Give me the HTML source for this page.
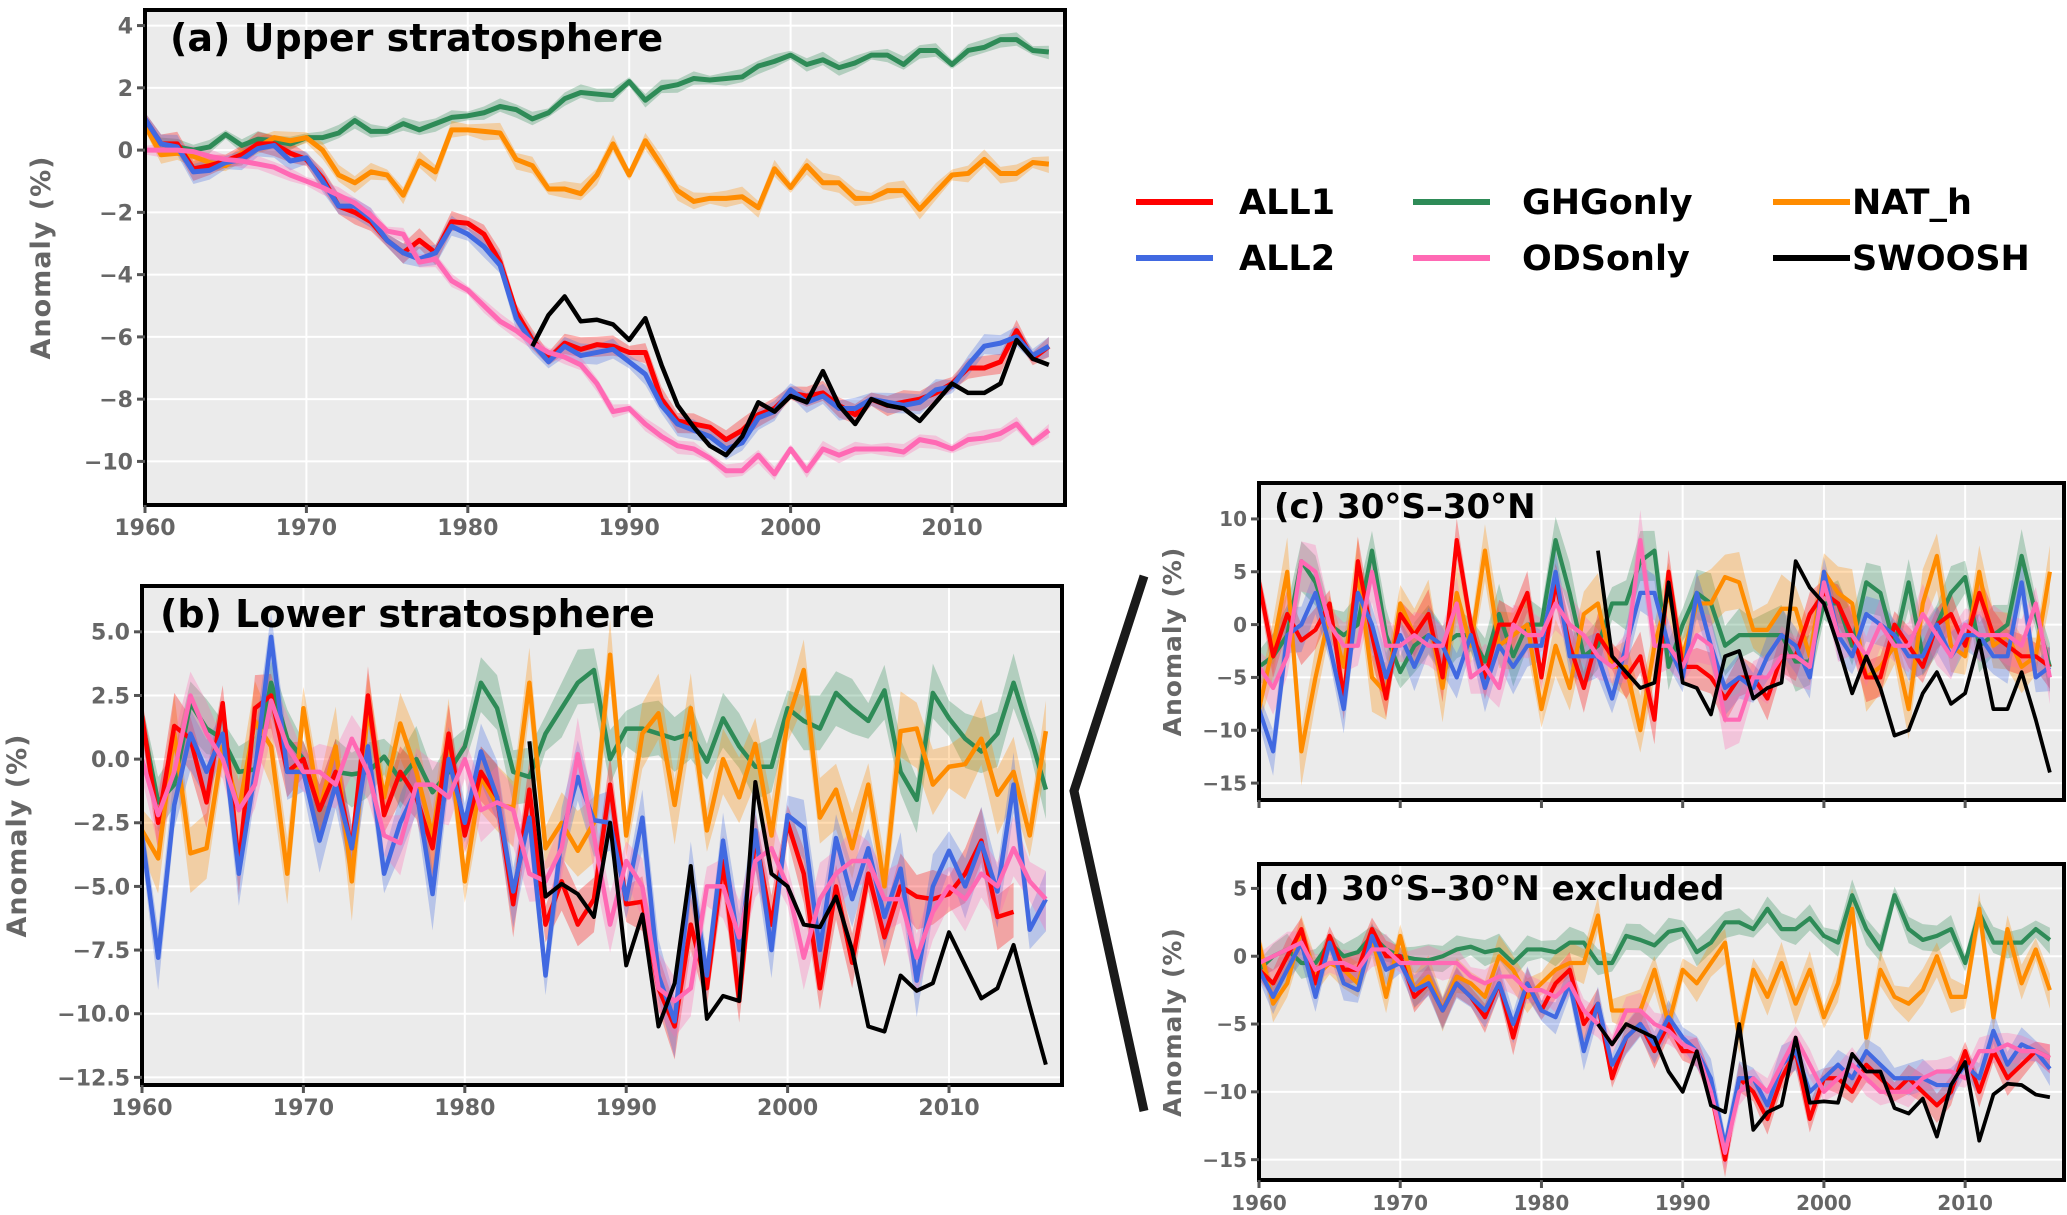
<!DOCTYPE html>
<html><head><meta charset="utf-8">
<style>
html,body{margin:0;padding:0;background:#fff;}
svg{display:block;font-family:"DejaVu Sans","Liberation Sans",sans-serif;}
</style></head>
<body>
<svg id="fig" width="2067" height="1215" viewBox="0 0 2067 1215" xmlns="http://www.w3.org/2000/svg"></svg>
<script>
// ---- data (years 1960..2016) ----
const years = Array.from({length:57},(_,i)=>1960+i);
const swooshYears = Array.from({length:33},(_,i)=>1984+i);

// panel a
const aGHG=[0.8,0.2,0.1,0.0,0.1,0.5,0.15,0.35,0.3,0.2,0.4,0.4,0.55,0.95,0.6,0.6,0.85,0.65,0.85,1.05,1.1,1.2,1.4,1.3,1.0,1.2,1.65,1.85,1.8,1.75,2.2,1.6,2.0,2.1,2.3,2.25,2.3,2.35,2.7,2.85,3.05,2.75,2.9,2.65,2.8,3.05,3.05,2.75,3.2,3.2,2.75,3.2,3.3,3.55,3.55,3.2,3.15];
const aNAT=[0.8,-0.15,-0.1,-0.2,-0.4,-0.5,-0.1,0.1,0.4,0.3,0.4,0.0,-0.8,-1.05,-0.7,-0.8,-1.45,-0.35,-0.7,0.65,0.65,0.6,0.55,-0.3,-0.5,-1.25,-1.25,-1.4,-0.8,0.2,-0.8,0.3,-0.5,-1.3,-1.65,-1.55,-1.55,-1.5,-1.85,-0.6,-1.2,-0.5,-1.05,-1.05,-1.55,-1.55,-1.3,-1.3,-1.9,-1.35,-0.8,-0.75,-0.3,-0.75,-0.75,-0.4,-0.45];
const aALL1=[1.0,0.2,0.2,-0.6,-0.5,-0.35,-0.15,0.2,0.2,-0.1,-0.3,-0.9,-1.8,-2.0,-2.3,-2.9,-3.3,-2.9,-3.3,-2.3,-2.35,-2.7,-3.6,-5.2,-6.1,-6.7,-6.2,-6.4,-6.25,-6.3,-6.5,-6.5,-8.0,-8.7,-8.8,-8.9,-9.3,-9.0,-8.5,-8.3,-7.8,-7.9,-7.8,-8.2,-8.5,-8.0,-8.2,-8.1,-8.0,-7.8,-7.5,-7.0,-7.0,-6.8,-5.8,-6.7,-6.3];
const aALL2=[1.0,0.2,0.1,-0.7,-0.65,-0.4,-0.3,0.05,0.15,-0.35,-0.25,-1.0,-1.8,-1.8,-2.2,-2.9,-3.3,-3.5,-3.3,-2.45,-2.7,-3.1,-3.7,-5.4,-6.2,-6.8,-6.3,-6.6,-6.5,-6.4,-6.8,-7.2,-8.2,-8.8,-9.0,-9.2,-9.6,-9.4,-8.6,-8.4,-7.7,-8.1,-7.9,-8.3,-8.3,-8.0,-8.1,-8.2,-8.1,-7.7,-7.6,-6.9,-6.3,-6.2,-6.0,-6.6,-6.3];
const aODS=[0.0,0.0,0.0,-0.05,-0.2,-0.3,-0.35,-0.45,-0.55,-0.8,-1.0,-1.2,-1.45,-1.7,-2.1,-2.6,-2.7,-3.6,-3.5,-4.2,-4.5,-5.0,-5.5,-5.8,-6.2,-6.5,-6.65,-6.9,-7.5,-8.4,-8.3,-8.8,-9.2,-9.5,-9.6,-9.9,-10.3,-10.3,-9.8,-10.4,-9.6,-10.3,-9.6,-9.8,-9.6,-9.6,-9.6,-9.7,-9.3,-9.4,-9.6,-9.3,-9.25,-9.1,-8.8,-9.4,-9.0];
const aSWOOSH=[-6.3,-5.3,-4.7,-5.5,-5.45,-5.6,-6.1,-5.4,-6.9,-8.2,-8.9,-9.5,-9.8,-9.2,-8.1,-8.4,-7.9,-8.1,-7.1,-8.2,-8.8,-8.0,-8.2,-8.3,-8.7,-8.1,-7.5,-7.8,-7.8,-7.5,-6.1,-6.7,-6.9];

// panel b
const bGHG=[1.5,-1.7,-1.0,2.2,1.2,0.8,-0.5,-0.4,3.0,0.8,0.0,-2.0,-0.5,-0.6,-0.5,0.1,-0.8,0.0,-1.3,-0.5,0.5,3.0,2.0,-0.5,-0.7,1.0,2.0,3.0,3.5,0.0,1.2,1.2,1.0,0.8,1.0,-0.1,1.6,0.5,-0.3,-0.3,2.0,1.5,1.2,2.6,2.0,1.5,2.7,-0.5,-1.6,2.6,1.6,0.8,0.3,1.0,3.0,1.0,-1.2];
const bNAT=[-2.8,-3.9,1.0,-3.7,-3.5,0.5,-2.0,1.5,0.5,-4.5,2.0,-2.0,0.5,-4.8,2.0,-1.5,1.4,-0.5,-3.0,1.0,-4.8,-0.7,-1.8,-1.9,3.0,-3.5,-2.5,-3.6,-2.5,4.1,-3.0,1.0,1.8,-1.8,2.0,-2.8,0.0,-1.5,0.6,-3.0,1.5,3.5,-2.3,-1.2,-3.5,-1.0,-5.0,1.1,1.2,-1.0,-0.3,-0.2,0.8,-1.4,-0.5,-3.0,1.1];
const bALL1=[1.7,-2.5,1.3,0.8,-1.7,2.2,-4.2,2.0,2.5,-0.5,0.0,-2.0,-0.5,-3.5,2.5,-2.2,-0.5,-1.5,-3.5,1.0,-3.0,-0.5,-1.5,-5.7,-1.2,-6.5,-4.8,-6.5,-5.5,-1.0,-5.7,-5.6,-9.0,-10.5,-6.5,-9.0,-4.0,-9.5,-3.0,-6.5,-2.5,-4.5,-9.0,-5.0,-8.0,-4.5,-7.0,-5.0,-5.4,-5.5,-5.3,-4.5,-3.2,-6.2,-6.0];
const bALL2=[-3.0,-7.8,-1.8,1.0,-0.5,1.0,-4.5,-0.5,4.8,-0.5,-0.5,-3.2,-1.0,-3.5,0.5,-4.5,-2.5,-1.2,-5.3,0.0,-2.5,0.3,-1.5,-5.2,-2.3,-8.5,-3.0,-0.7,-2.4,-2.5,-5.5,-2.3,-8.5,-10.3,-4.5,-8.5,-3.2,-7.5,-2.8,-7.5,-2.2,-2.7,-7.5,-3.1,-5.5,-3.5,-6.2,-4.3,-8.7,-5.0,-3.6,-5.0,-3.3,-5.2,-1.0,-6.7,-5.5];
const bODS=[0.0,-2.2,-0.5,2.5,1.0,0.0,-2.0,-1.0,2.3,0.5,-0.5,-0.5,-1.0,0.8,-0.5,-3.0,-3.3,-1.0,-1.0,-1.5,0.0,-2.0,-1.7,-2.0,-4.5,-4.8,-3.5,0.2,-3.0,-6.5,-4.0,-5.0,-9.0,-9.5,-9.0,-5.0,-5.0,-7.0,-4.0,-3.5,-5.0,-7.8,-5.5,-4.5,-4.0,-4.0,-5.5,-5.5,-7.8,-6.0,-5.0,-5.5,-4.5,-5.0,-3.5,-4.8,-5.5];
const bSWOOSH=[0.7,-5.4,-4.9,-5.3,-6.2,-2.5,-8.1,-6.1,-10.5,-8.8,-4.2,-10.2,-9.3,-9.5,-0.9,-4.5,-5.0,-6.5,-6.6,-5.4,-7.5,-10.5,-10.7,-8.5,-9.1,-8.8,-6.8,-8.1,-9.4,-9.0,-7.3,-9.7,-12.0];

// panel c
const cGHG=[-4,-3,-1,6,4,0,-1,0,7,-1,-4.5,-2,-1,-2,-1,-1,-3.5,1,-3,0,0,8,3,-3,-2,2,2,6,7,-4,0,3,2,-2,-1,-1,-1,-1,-3.5,-3.5,2,2,-2,4,3,-2,4,-3,0,3,4.5,-2,-1,0,6.5,1,-4];
const cNAT=[-8,-2,5,-12,-5,1,-4,5,-5,-6.5,2,-1,1,-6,3,-2,7,-2,-1,0,-8,-2,-6,1,2,-4,-4,-10,-2,3,-3,2,2,4.5,4,-0.5,-0.5,1.5,1.5,-3,5,3,2,-5,-4,-2,-8,2,6.5,-2,-3,5,-2,-1,-4,-3,5];
const cALL1=[4,-3,1,-1.5,-0.5,2,-7,6,-1,-7,1,-1,1,-5,8,0,-5,0,0,3,-5,4,-2,-6,-1,-3,-5,-3,-9,5,-4,-4,-5,-7,-5,-5,-7,-3,-3,1,3,2,-1,-5,-5,0,-2,-4,0,1,-2,3,-1,-2,-3,-3,-4];
const cALL2=[-8,-12,-1,0,3,-2,-8,3,0,-5,-1,-4,-1,-2,-5,-1,-6,-2,-4,-2,-2,5,-3,-3,-3,-7,-2,3,3,-2,-5,3,-2,-6,-5,-6,-3,-1,-2,-5,5,-1,-3,1,0,-1,-3,-3,0,-3,-1,-1,-3,-3,4,-5,-4];
const cODS=[-4,-6,-3,6,5,0,-2,-2,5,-2,-2,-1,-2,-2,2,-5,-4,-6,0,-1,-1,2,0,-1,-3,-4,-3,8,-2,-2,-4,-1,-2,-9,-9,-5,-5,-3,-3,-4,4,-1,-1,-3,0,-2,-2,1,-1,-3,0,-1,-1,-1,-2,2,-5];
const cSWOOSH=[7,-3,-4.5,-6,-5.5,4,-5.5,-6,-8.5,-3,-2.5,-7,-6,-5.5,6,3.5,2,-2,-6.5,-3,-6,-10.5,-10,-6.5,-4.5,-7.5,-6.5,-1.5,-8,-8,-4.5,-9,-14];

// panel d
const dGHG=[-1,0,0.5,-0.5,-0.5,1,0,0.3,1.5,0.5,0,-0.2,-0.3,0,0.5,0.7,0.3,0.5,-0.5,0.5,0.5,0.3,1,1,-0.5,-0.5,1.5,1.2,0.8,1.8,2,0.3,1,2.5,2.5,2,3.5,2,2,2.8,1.5,1,4.5,2,0.5,4.5,2,1.2,1.5,2,-0.5,3.2,1,1,1,2,1.2];
const dNAT=[1,-3.5,-2,2,-1.5,-0.5,-1,-2,1.5,-3,1.5,-2.5,-1.5,-4,-1.5,-2,-3,0,-1,-3,-2,-1,-0.5,-0.5,3,-4,-4,-4,-1,-5,-1,-2,-0.5,1,-6,-1,-3,-0.5,-3.5,-1,-4.5,-2,3.5,-6,-1,-3,-3.5,-2.5,0,-3,-3,3.5,-4.5,2,-2,0.5,-2.5];
const dALL1=[-1,-2,0,2,-2,1.5,-1,-1,2,0,0,-3,-2,-4,-2,-3,-4.5,-2,-6,-2,-4,-2,-1,-5,-3.5,-9,-6,-5,-7,-5,-7,-7,-10,-15,-9,-10,-12,-9,-7,-12,-9,-9,-10,-8,-9,-10,-9,-10,-11,-10,-7,-10,-7,-9,-8,-7,-7.5];
const dALL2=[-1,-3,-1,1,-3,1,-2,-2.5,1.5,-1,-0.5,-2.5,-2,-4,-2,-3,-4,-2,-5,-2,-4,-4.5,-2,-7,-3.5,-8,-6,-5,-6.5,-4.5,-6,-7,-9,-14,-9,-9,-11,-8,-7,-10,-9,-8,-9,-7,-8,-9,-9,-9,-9.5,-9.5,-8,-9,-5.5,-8,-6.5,-7,-8.3];
const dODS=[-0.5,0,0.5,1,-1,-0.5,-0.5,-1,0.5,0.5,-0.5,-0.5,-0.5,-0.5,-0.5,-1.5,-2,-1.5,-1.5,-2.5,-2.5,-3,-2,-4,-5,-6.5,-4,-4,-5,-5.5,-6.5,-7,-10,-14.5,-10,-9,-10,-8,-6,-8,-10,-9,-8,-9,-10,-10,-10,-9,-8.5,-8.5,-9,-7,-7,-6.5,-7,-7,-7.5];
const dSWOOSH=[-5,-6.5,-5,-5.5,-6,-8.5,-10,-7,-11,-11.5,-5,-12.8,-11.5,-11,-6,-10.8,-10.7,-10.8,-7.2,-8.5,-8.5,-11.2,-11.6,-10.5,-13.3,-9.5,-7.8,-13.6,-10.2,-9.4,-9.5,-10.2,-10.4];

const xTickLabels=[1960,1970,1980,1990,2000,2010];
const aYTicks=[4,2,0,-2,-4,-6,-8,-10];
const bYTicks=[5.0,2.5,0.0,-2.5,-5.0,-7.5,-10.0,-12.5];
const cYTicks=[10,5,0,-5,-10,-15];
const dYTicks=[5,0,-5,-10,-15];
const legendLabels=["ALL1","ALL2","GHGonly","ODSonly","NAT_h","SWOOSH"];

const NS="http://www.w3.org/2000/svg";
const svg=document.getElementById('fig');
function mk(tag,attrs,parent){const e=document.createElementNS(NS,tag);for(const k in attrs)e.setAttribute(k,attrs[k]);(parent||svg).appendChild(e);return e;}
const COL={ALL1:"#ff0000",ALL2:"#4169e1",GHG:"#2e8b57",ODS:"#ff69b4",NAT:"#ff8c00",SW:"#000000"};

const panels=[
 {id:"a",title:"(a) Upper stratosphere",box:[145,10,1065,505],ylim:[-11.4,4.5],yt:aYTicks,fmt:v=>v.toFixed(0),
  ser:{GHG:aGHG,NAT:aNAT,ALL1:aALL1,ALL2:aALL2,ODS:aODS},sw:aSWOOSH,band:{GHG:0.2,NAT:0.25,ALL1:0.3,ALL2:0.3,ODS:0.2},lw:5,
  tx:170,ty:51,tf:38,ylx:50,xl:true,tfs:22},
 {id:"b",title:"(b) Lower stratosphere",box:[142,586,1062,1085],ylim:[-12.8,6.8],yt:bYTicks,fmt:v=>v.toFixed(1),
  ser:{GHG:bGHG,NAT:bNAT,ALL1:bALL1,ALL2:bALL2,ODS:bODS},sw:bSWOOSH,band:{GHG:1.0,NAT:1.2,ALL1:1.0,ALL2:1.1,ODS:1.1},lw:4.5,
  tx:160,ty:627,tf:38,ylx:26,xl:true,tfs:22},
 {id:"c",title:"(c) 30°S–30°N",box:[1259,483,2064,800],ylim:[-16.6,13.4],yt:cYTicks,fmt:v=>v.toFixed(0),
  ser:{GHG:cGHG,NAT:cNAT,ALL1:cALL1,ALL2:cALL2,ODS:cODS},sw:cSWOOSH,band:{GHG:2.2,NAT:2.5,ALL1:1.8,ALL2:2,ODS:2.2},lw:4.2,
  tx:1274,ty:518,tf:34,ylx:1181,xl:false,tfs:20},
 {id:"d",title:"(d) 30°S–30°N excluded",box:[1259,864,2064,1180],ylim:[-16.5,6.8],yt:dYTicks,fmt:v=>v.toFixed(0),
  ser:{GHG:dGHG,NAT:dNAT,ALL1:dALL1,ALL2:dALL2,ODS:dODS},sw:dSWOOSH,band:{GHG:0.9,NAT:1.2,ALL1:1.0,ALL2:1.1,ODS:1.0},lw:4.2,
  tx:1274,ty:900,tf:34,ylx:1181,xl:true,tfs:20}
];
const XMIN=1960,XMAX=2017;

panels.forEach(p=>{
  const [L,T,R,B]=p.box;
  const g=mk('g',{});
  
  
  const xs=y=>L+(y-XMIN)/(XMAX-XMIN)*(R-L);
  const ys=v=>B-(v-p.ylim[0])/(p.ylim[1]-p.ylim[0])*(B-T);
  mk('rect',{x:L,y:T,width:R-L,height:B-T,fill:"#ebebeb"},g);
  const clipId='clip'+p.id;
  const cp=mk('clipPath',{id:clipId},g);mk('rect',{x:L,y:T,width:R-L,height:B-T},cp);
  xTickLabels.forEach(t=>{mk('line',{x1:xs(t),x2:xs(t),y1:T,y2:B,stroke:"#fff","stroke-width":2},g);});
  p.yt.forEach(t=>{mk('line',{x1:L,x2:R,y1:ys(t),y2:ys(t),stroke:"#fff","stroke-width":2},g);});
  const plot=mk('g',{'clip-path':`url(#${clipId})`},g);
  const order=["GHG","NAT","ALL1","ALL2","ODS"];
  order.forEach(k=>{
    const vals=p.ser[k];const hw=p.band[k];
    let up=[],dn=[];
    vals.forEach((v,i)=>{up.push(xs(years[i])+","+ys(v+hw*(0.7+0.6*((i*7)%5)/4)));dn.unshift(xs(years[i])+","+ys(v-hw*(0.7+0.6*((i*3)%5)/4)));});
    const band=mk('polygon',{points:up.concat(dn).join(" "),fill:COL[k],"fill-opacity":0.3,stroke:"none"},plot);
    
    
  });
  order.forEach(k=>{
    const vals=p.ser[k];
    const pts=vals.map((v,i)=>xs(years[i])+","+ys(v)).join(" ");
    const ln=mk('polyline',{points:pts,fill:"none",stroke:COL[k],"stroke-width":p.lw,"stroke-linejoin":"round"},plot);
    
    
  });
  const sp=p.sw.map((v,i)=>xs(swooshYears[i])+","+ys(v)).join(" ");
  const sl=mk('polyline',{points:sp,fill:"none",stroke:"#000","stroke-width":p.lw*0.9,"stroke-linejoin":"round"},plot);
  
  
  mk('rect',{x:L,y:T,width:R-L,height:B-T,fill:"none",stroke:"#000","stroke-width":4},g);
  xTickLabels.forEach(t=>{
    mk('line',{x1:xs(t),x2:xs(t),y1:B,y2:B+8,stroke:"#555","stroke-width":3},g);
    if(p.xl){const tl=mk('text',{x:xs(t),y:B+30,"text-anchor":"middle","font-size":p.tfs,"font-weight":"bold",fill:"#666"},g);tl.textContent=t;
      
      }
  });
  p.yt.forEach(t=>{
    mk('line',{x1:L-8,x2:L,y1:ys(t),y2:ys(t),stroke:"#555","stroke-width":3},g);
    const tl=mk('text',{x:L-12,y:ys(t)+p.tfs*0.36,"text-anchor":"end","font-size":p.tfs,"font-weight":"bold",fill:"#666"},g);
    tl.textContent=p.fmt(t).replace('-','\u2212');
    
    
  });
  const yl=mk('text',{x:p.ylx,y:(T+B)/2,"text-anchor":"middle","font-size":p.tfs+5,"font-weight":"bold",fill:"#666","letter-spacing":"1",transform:`rotate(-90 ${p.ylx} ${(T+B)/2})`},g);
  yl.textContent="Anomaly (%)";
  
  
  const tt=mk('text',{x:p.tx,y:p.ty,"font-size":p.tf,"font-weight":"bold",fill:"#000"},g);
  tt.textContent=p.title;
  
  
});

const con=mk('polyline',{points:"1144,576 1074,791 1144,1111",fill:"none",stroke:"#1a1a1a","stroke-width":9});



const legCols=[[1136,1239],[1413,1522],[1773,1852]];
const legRows=[202,258];
const legKeys=["ALL1","ALL2","GHG","ODS","NAT","SW"];
legendLabels.forEach((lab,i)=>{
  const c=Math.floor(i/2),r=i%2;
  const g=mk('g',{});
  
  
  mk('line',{x1:legCols[c][0],x2:legCols[c][0]+77,y1:legRows[r],y2:legRows[r],stroke:COL[legKeys[i]],"stroke-width":6},g);
  const t=mk('text',{x:legCols[c][1],y:legRows[r]+12,"font-size":35,"font-weight":"bold",fill:"#000"},g);
  t.textContent=lab;
});
</script>
</body></html>
